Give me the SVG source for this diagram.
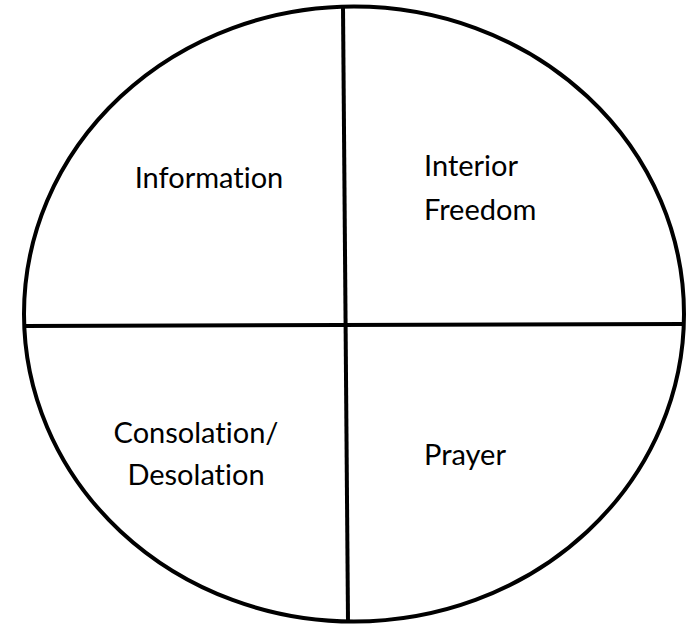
<svg xmlns="http://www.w3.org/2000/svg" width="686" height="627" viewBox="0 0 686 627">
<style>
.shape{fill:none;stroke:#000;stroke-width:4}
.lbl{font-family:"Lato","Open Sans","DejaVu Sans",sans-serif;font-size:29px;fill:#000;font-variant-ligatures:none;font-feature-settings:"liga" 0,"dlig" 0}
</style>
<rect width="686" height="627" fill="#fff"/>
<g id="circle">
<ellipse class="shape" cx="354" cy="314" rx="330" ry="307.5"/>
</g>
<g id="connectors">
<line class="shape" x1="343" y1="7" x2="348" y2="621"/>
<line class="shape" x1="24" y1="326" x2="684" y2="324"/>
</g>
<g id="information"><text class="lbl" x="209" y="188" text-anchor="middle">Information</text></g>
<g id="interior-freedom"><text class="lbl" x="424" y="176">Interior</text><text class="lbl" x="424" y="220">Freedom</text></g>
<g id="consolation-desolation"><text class="lbl" x="196" y="443" text-anchor="middle">Consolation/</text><text class="lbl" x="196" y="485" text-anchor="middle">Desolation</text></g>
<g id="prayer"><text class="lbl" x="424" y="465">Prayer</text></g>
</svg>
